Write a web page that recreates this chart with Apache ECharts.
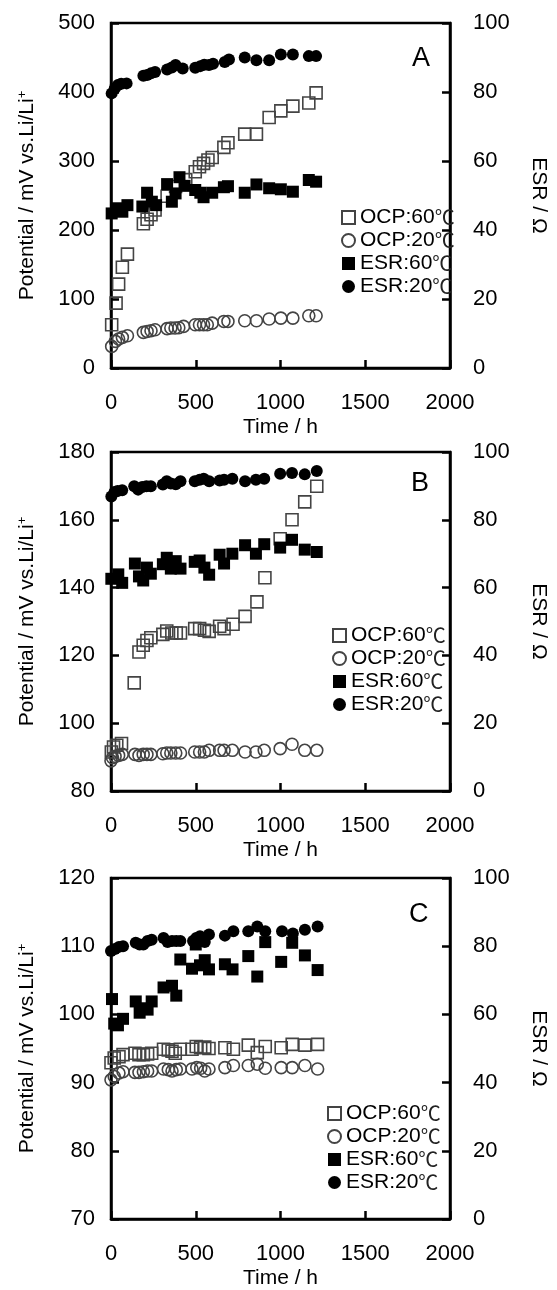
<!DOCTYPE html>
<html>
<head>
<meta charset="utf-8">
<script src="https://cdn.jsdelivr.net/npm/echarts@6/dist/echarts.min.js"></script>
<style>
html,body{margin:0;padding:0;background:#fff;}
#c{width:557px;height:1290px;}
</style>
</head>
<body>
<div id="c"></div>
<script>
// ---- Tick settings ----
const xTicks = {min: 0, max: 2000, interval: 500};
const leftTicksA = {min: 0, max: 500, interval: 100};
const leftTicksB = {min: 80, max: 180, interval: 20};
const leftTicksC = {min: 70, max: 120, interval: 10};
const rightTicks = {min: 0, max: 100, interval: 20};
const panelLetters = ['A', 'B', 'C'];
const seriesNames = ['OCP:60℃', 'OCP:20℃', 'ESR:60℃', 'ESR:20℃'];

// ---- Panel A : [time h, value] ----
const A_OCP60 = [[4,62.7],[30,94],[45,121.5],[67,146],[97,165],[191,209],[213,215.5],[236,222],[260,229],[331,249],[381,263],[441,273],[497,284.5],[522,291.7],[546,296.6],[572,301.4],[597,305],[666,319.7],[690,326.5],[789,339],[858,339],[933,363],[1002,372.7],[1073,379.5],[1167,384],[1210,398.8]];
const A_OCP20 = [[4,31.3],[26,38.6],[45,42],[67,44.4],[97,46.8],[191,51.6],[213,53],[236,54],[260,55.5],[331,57],[353,58],[378,58],[400,58.3],[428,60.3],[497,62.7],[522,62.7],[546,62.7],[568,62.7],[597,65],[666,67.5],[690,67.5],[789,68.5],[858,68.5],[933,71],[1002,72.3],[1073,72.3],[1167,75.7],[1210,75.7]];
const A_ESR60 = [[4,44.8],[35,46.3],[67,45.3],[97,47.2],[185,46.8],[213,50.8],[241,48.2],[266,47.2],[331,53.3],[359,48.2],[381,50.6],[404,55.3],[434,52.8],[497,51.6],[527,50.8],[546,49.5],[597,50.8],[666,52.4],[690,52.7],[789,50.8],[858,53.2],[933,52.1],[1002,51.8],[1073,51.1],[1167,54.5],[1210,54.0]];
const A_ESR20 = [[4,79.6],[22,81.0],[41,82.0],[60,82.4],[92,82.5],[191,84.7],[213,84.9],[236,85.4],[260,85.8],[331,86.5],[359,87.1],[381,87.8],[423,86.8],[497,87.0],[527,87.5],[550,87.9],[578,87.8],[602,88.2],[671,88.7],[696,89.4],[789,90.0],[858,89.2],[933,89.2],[1002,90.9],[1073,90.9],[1167,90.4],[1210,90.4]];

// ---- Panel B ----
const B_OCP60 = [[2,91.5],[15,93.0],[34,93.5],[62,94.0],[137,111.9],[165,121.0],[190,123.0],[212,124.4],[235,125.2],[306,126.2],[329,127.2],[359,126.6],[385,126.6],[410,126.6],[494,127.9],[523,127.9],[551,127.4],[579,127.1],[641,128.6],[667,127.9],[720,129.2],[791,131.5],[861,135.8],[908,142.9],[998,154.4],[1068,160.0],[1143,165.3],[1214,169.9]];
const B_OCP20 = [[0,88.9],[9,89.8],[24,90.2],[45,90.5],[66,90.8],[141,90.8],[165,90.5],[190,90.8],[212,90.8],[235,90.8],[306,91.0],[329,91.2],[353,91.2],[382,91.2],[410,91.2],[494,91.5],[523,91.5],[551,91.5],[579,92.0],[641,92.0],[667,92.0],[716,92.0],[791,91.5],[855,91.5],[904,92.0],[998,92.5],[1068,93.8],[1143,92.0],[1214,92.0]];
const B_ESR60 = [[2,62.6],[43,63.9],[66,61.4],[141,67.1],[165,63.3],[190,62.1],[212,65.9],[235,64.1],[306,66.9],[329,68.8],[353,65.6],[382,67.8],[410,65.6],[494,67.6],[523,68.0],[551,65.9],[579,63.8],[641,69.7],[667,67.1],[716,70.0],[791,72.5],[855,70.0],[904,72.8],[998,71.8],[1068,74.1],[1143,71.2],[1214,70.5]];
const B_ESR20 = [[2,86.9],[21,88.2],[39,88.5],[66,88.7],[137,89.9],[160,88.9],[184,89.7],[209,89.9],[235,89.9],[306,90.4],[329,91.4],[353,90.7],[382,90.5],[410,91.4],[494,91.4],[523,91.8],[547,92.1],[579,91.4],[641,91.6],[667,91.8],[716,92.1],[791,91.4],[855,91.8],[904,92.1],[998,93.6],[1068,93.8],[1143,93.4],[1214,94.4]];

// ---- Panel C ----
const C_OCP60 = [[0,92.9],[19,93.6],[47,93.8],[71,94.1],[141,94.3],[165,94.1],[191,94.1],[216,94.2],[240,94.3],[310,94.9],[338,94.8],[360,94.6],[379,94.3],[409,94.9],[478,94.9],[503,95.3],[529,95.1],[553,95.2],[578,95.0],[672,95.1],[722,94.9],[810,95.5],[863,94.4],[910,95.3],[1004,95.1],[1069,95.6],[1144,95.5],[1219,95.6]];
const C_OCP20 = [[0,90.4],[19,90.9],[47,91.4],[71,91.6],[141,91.5],[165,91.5],[191,91.6],[216,91.7],[240,91.7],[310,92.0],[338,91.9],[360,91.7],[385,91.9],[409,92.0],[478,92.0],[506,92.2],[529,92.1],[553,91.7],[578,92.0],[672,92.2],[722,92.5],[810,92.5],[863,92.7],[910,92.1],[1004,92.2],[1069,92.2],[1144,92.5],[1219,92.0]];
const C_ESR60 = [[6,64.5],[19,57.3],[41,56.8],[71,58.7],[146,63.8],[169,60.5],[191,61.8],[216,61.4],[240,63.8],[310,67.9],[360,68.4],[385,65.5],[409,76.1],[478,73.4],[500,80.5],[525,74.4],[553,75.9],[578,73.2],[672,74.7],[717,73.2],[810,77.1],[863,71.1],[910,81.2],[1004,75.4],[1069,81.0],[1144,77.3],[1219,73.0]];
const C_ESR20 = [[0,78.6],[23,79.2],[47,79.8],[71,80.0],[146,81.0],[169,80.5],[191,80.5],[216,81.5],[240,81.9],[310,82.4],[334,81.2],[360,81.5],[385,81.5],[409,81.5],[484,81.5],[503,82.4],[525,82.9],[553,81.2],[578,83.4],[672,83.1],[722,84.4],[810,84.4],[863,85.8],[910,84.4],[1009,84.4],[1073,83.7],[1144,84.8],[1219,85.8]];

const panels = [
  {left: leftTicksA, data: [A_OCP60, A_OCP20, A_ESR60, A_ESR20]},
  {left: leftTicksB, data: [B_OCP60, B_OCP20, B_ESR60, B_ESR20]},
  {left: leftTicksC, data: [C_OCP60, C_OCP20, C_ESR60, C_ESR20]}
];

const FONT = "'Liberation Sans', Arial, 'Noto Sans CJK JP', sans-serif";
const CJK = "'Noto Sans CJK JP', 'Noto Sans CJK SC', sans-serif";
const gridPos = [
  {top: 23, height: 345},
  {top: 452, height: 339},
  {top: 878, height: 345}
];
const legendPos = [
  {left: 341, top: 206},
  {left: 332, top: 624},
  {left: 327, top: 1102}
];
const letterPos = [
  {left: 412, top: 45},
  {left: 411, top: 470},
  {left: 409, top: 901}
];

const grids = [], xAxes = [], yAxes = [], series = [], legends = [], titles = [];
const axisLine = {show: true, onZero: false, lineStyle: {color: '#000', width: 2.5}};
const axisTick = {show: true, inside: true, length: 8, lineStyle: {color: '#000', width: 2.5}};
const labelStyle = {color: '#000', fontSize: 22, fontFamily: FONT};

panels.forEach((p, i) => {
  grids.push({left: 111, width: 357, top: gridPos[i].top, height: gridPos[i].height,
    show: true, borderColor: '#000', borderWidth: 2.5, backgroundColor: 'transparent'});
  xAxes.push({type: 'value', gridIndex: i, min: xTicks.min, max: xTicks.max, interval: xTicks.interval,
    position: 'bottom', axisLine, axisTick, splitLine: {show: false},
    axisLabel: Object.assign({margin: 24, formatter: v => String(v)}, labelStyle),
    name: 'Time / h', nameLocation: 'middle', nameGap: 49,
    nameTextStyle: {color: '#000', fontSize: 21, fontFamily: FONT}});
  yAxes.push({type: 'value', gridIndex: i, min: p.left.min, max: p.left.max, interval: p.left.interval,
    position: 'left', axisLine, axisTick, splitLine: {show: false},
    axisLabel: Object.assign({margin: 16, formatter: v => String(v)}, labelStyle),
    name: 'Potential / mV vs.Li/Li{sup|+}', nameLocation: 'middle', nameGap: 72,
    nameTextStyle: {color: '#000', fontSize: 21, fontFamily: FONT,
      rich: {sup: {fontSize: 13, verticalAlign: 'top', color: '#000', fontFamily: FONT, padding: [0, 0, 10, 0]}}}});
  yAxes.push({type: 'value', gridIndex: i, min: rightTicks.min, max: rightTicks.max, interval: rightTicks.interval,
    position: 'right', axisLine, axisTick, splitLine: {show: false},
    axisLabel: Object.assign({margin: 23}, labelStyle),
    name: 'ESR / Ω', nameLocation: 'middle', nameGap: 78, nameRotate: -90,
    nameTextStyle: {color: '#000', fontSize: 21, fontFamily: FONT}});
  const sty = [
    {symbol: 'rect', itemStyle: {color: 'rgba(255,255,255,0)', borderColor: '#444', borderWidth: 1.6, opacity: 1}, yi: 2 * i},
    {symbol: 'circle', itemStyle: {color: 'rgba(255,255,255,0)', borderColor: '#444', borderWidth: 1.6, opacity: 1}, yi: 2 * i},
    {symbol: 'rect', itemStyle: {color: '#000', opacity: 1}, yi: 2 * i + 1},
    {symbol: 'circle', itemStyle: {color: '#000', opacity: 1}, yi: 2 * i + 1}
  ];
  const names = [];
  p.data.forEach((d, k) => {
    const nm = seriesNames[k] + ' '.repeat(i);
    names.push(nm);
    series.push({type: 'scatter', name: nm, xAxisIndex: i, yAxisIndex: sty[k].yi,
      symbol: sty[k].symbol, symbolSize: 12, itemStyle: sty[k].itemStyle,
      emphasis: {disabled: true},
      data: d, z: 2 + k});
  });
  legends.push({orient: 'vertical', left: legendPos[i].left, top: legendPos[i].top,
    data: names.map(n => ({name: n})), itemWidth: 13, itemHeight: 13, itemGap: 0, padding: 0,
    selectedMode: false,
    formatter: n => { const t = n.trim(); return '{a|' + t.slice(0, -1) + '}{b|' + t.slice(-1) + '}'; },
    textStyle: {color: '#000', fontSize: 21, fontFamily: FONT, lineHeight: 23,
      rich: {a: {fontSize: 21, fontFamily: FONT, color: '#000', lineHeight: 23},
             b: {fontSize: 20, fontFamily: CJK, color: '#222', lineHeight: 23}}}});
  titles.push({text: panelLetters[i], left: letterPos[i].left, top: letterPos[i].top, padding: 0,
    textStyle: {color: '#000', fontSize: 27, fontWeight: 'normal', fontFamily: FONT}});
});

const chart = echarts.init(document.getElementById('c'), null, {renderer: 'canvas'});
chart.setOption({
  animation: false,
  backgroundColor: '#fff',
  title: titles,
  grid: grids,
  xAxis: xAxes,
  yAxis: yAxes,
  legend: legends,
  series: series
});
</script>
</body>
</html>
